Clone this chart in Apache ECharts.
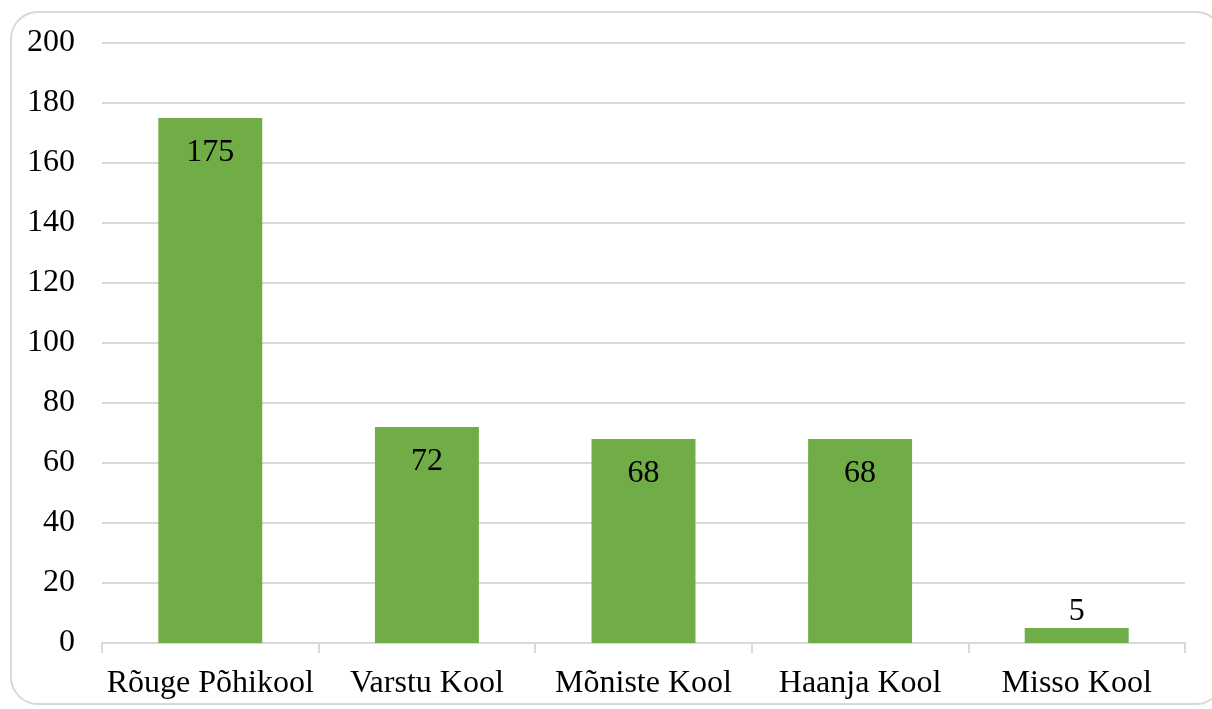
<!DOCTYPE html>
<html>
<head>
<meta charset="utf-8">
<script src="https://cdn.jsdelivr.net/npm/echarts@6/dist/echarts.min.js"></script>
<style>
html,body{margin:0;padding:0;background:#fff;}
#frame{position:absolute;left:10px;top:11px;width:1214px;height:694px;border:2px solid #d9d9d9;border-radius:28px;box-sizing:border-box;}
#chart{position:absolute;left:0;top:0;width:1212px;height:709px;}
</style>
</head>
<body>
<div id="frame"></div>
<div id="chart"></div>
<script>
const categories = ["Rõuge Põhikool", "Varstu Kool", "Mõniste Kool", "Haanja Kool", "Misso Kool"];
const values = [175, 72, 68, 68, 5];
const yTicks = [0, 20, 40, 60, 80, 100, 120, 140, 160, 180, 200];

const font = "'Liberation Serif', 'Times New Roman', serif";
const chart = echarts.init(document.getElementById('chart'));
chart.setOption({
  animation: false,
  grid: {left: 102, right: 27, top: 43, bottom: 66},
  xAxis: {
    type: 'category',
    data: categories,
    axisLine: {lineStyle: {color: '#d9d9d9', width: 2}},
    axisTick: {show: true, length: 10, lineStyle: {color: '#d9d9d9', width: 2}},
    axisLabel: {color: '#000', fontFamily: font, fontSize: 32, margin: 25, interval: 0}
  },
  yAxis: {
    type: 'value',
    min: yTicks[0],
    max: yTicks[yTicks.length - 1],
    interval: 20,
    axisLine: {show: false},
    axisTick: {show: false},
    splitLine: {lineStyle: {color: '#d9d9d9', width: 2}},
    axisLabel: {color: '#000', fontFamily: font, fontSize: 32, margin: 27}
  },
  series: [{
    type: 'bar',
    barWidth: '48%',
    itemStyle: {color: '#70ad47'},
    data: values.map(v => ({
      value: v,
      label: {position: v < 20 ? 'top' : 'insideTop', distance: v < 20 ? 0 : 19}
    })),
    label: {show: true, color: '#000', fontFamily: font, fontSize: 32}
  }]
});
</script>
</body>
</html>
